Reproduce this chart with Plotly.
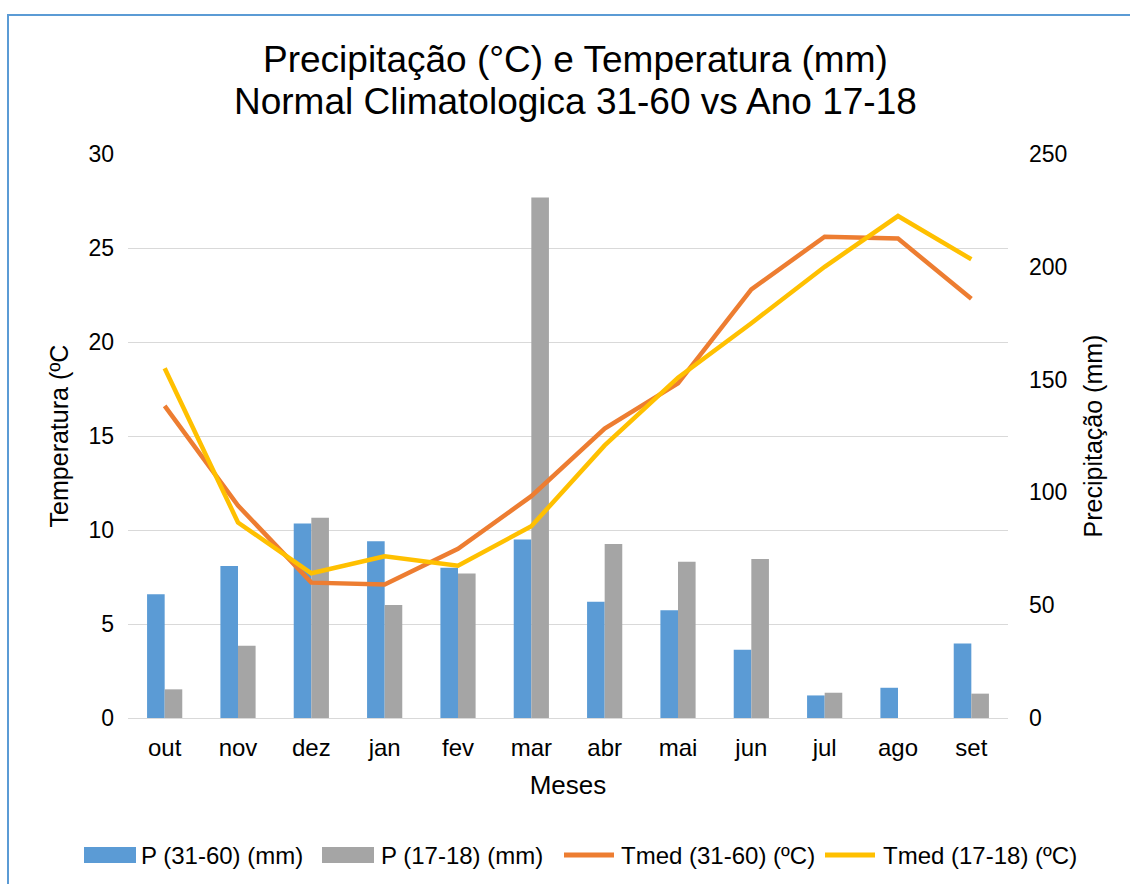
import plotly.graph_objects as go

months = ["out", "nov", "dez", "jan", "fev", "mar", "abr", "mai", "jun", "jul", "ago", "set"]
p_3160 = [54.9, 67.4, 86.2, 78.4, 66.6, 79.1, 51.5, 47.8, 30.3, 10.0, 13.4, 33.0]
p_1718 = [12.7, 32.0, 88.8, 50.1, 64.1, 230.7, 77.1, 69.3, 70.5, 11.2, None, 10.8]
t_3160 = [16.6, 11.3, 7.2, 7.1, 9.0, 11.8, 15.4, 17.8, 22.8, 25.6, 25.5, 22.3]
t_1718 = [18.6, 10.4, 7.7, 8.6, 8.1, 10.2, 14.5, 18.1, 21.0, 24.0, 26.7, 24.4]

series_names = ["P (31-60) (mm)", "P (17-18) (mm)", "Tmed (31-60) (ºC)", "Tmed (17-18) (ºC)"]
series_colors = ["#5B9BD5", "#A5A5A5", "#ED7D31", "#FFC000"]

temp_ticks = [0, 5, 10, 15, 20, 25, 30]
prec_ticks = [0, 50, 100, 150, 200, 250]

FONT = "Liberation Sans, Arial, sans-serif"

fig = go.Figure()
fig.add_trace(go.Bar(x=months, y=p_3160, name=series_names[0], marker_color=series_colors[0],
                     marker_line_width=0, yaxis="y"))
fig.add_trace(go.Bar(x=months, y=p_1718, name=series_names[1], marker_color=series_colors[1],
                     marker_line_width=0, yaxis="y"))
fig.add_trace(go.Scatter(x=months, y=t_3160, name=series_names[2], mode="lines",
                         line=dict(color=series_colors[2], width=4.5), yaxis="y2"))
fig.add_trace(go.Scatter(x=months, y=t_1718, name=series_names[3], mode="lines",
                         line=dict(color=series_colors[3], width=4.5), yaxis="y2"))

L, R, T, B = 128, 122, 154, 166
W, H = 1130, 884
pw, ph = W - L - R, H - T - B


def px_x(x):
    return (x - L) / pw


def px_y(y):
    return (H - B - y) / ph


annotations = [
    dict(text="Precipitação (°C) e Temperatura (mm)", xref="paper", yref="paper",
         x=px_x(575), y=px_y(60), xanchor="center", yanchor="middle", showarrow=False,
         font=dict(size=37, family=FONT)),
    dict(text="Normal Climatologica 31-60 vs Ano 17-18", xref="paper", yref="paper",
         x=px_x(575), y=px_y(101), xanchor="center", yanchor="middle", showarrow=False,
         font=dict(size=37, family=FONT)),
]
shapes = [
    dict(type="rect", xref="paper", yref="paper", x0=px_x(8), x1=px_x(1160),
         y0=px_y(920), y1=px_y(15), line=dict(color="#5B9BD5", width=2),
         fillcolor="rgba(0,0,0,0)", layer="below"),
]

# manual legend (swatch left edge, text left edge)
legend_y = 855
swatch_x = [84, 322, 562, 823]
swatch_w = 52
text_x = [139, 379, 619, 881]
for i, name in enumerate(series_names):
    if i < 2:
        shapes.append(dict(type="rect", xref="paper", yref="paper",
                           x0=px_x(swatch_x[i]), x1=px_x(swatch_x[i] + swatch_w),
                           y0=px_y(legend_y + 8), y1=px_y(legend_y - 8),
                           fillcolor=series_colors[i], line=dict(width=0)))
    else:
        shapes.append(dict(type="line", xref="paper", yref="paper",
                           x0=px_x(swatch_x[i] + 2), x1=px_x(swatch_x[i] + swatch_w),
                           y0=px_y(legend_y), y1=px_y(legend_y),
                           line=dict(color=series_colors[i], width=5)))
    annotations.append(dict(text=name, xref="paper", yref="paper", x=px_x(text_x[i]),
                            y=px_y(legend_y), xanchor="left", yanchor="middle",
                            showarrow=False, font=dict(size=24, family=FONT)))

fig.update_layout(
    width=W, height=H,
    margin=dict(l=L, r=R, t=T, b=B, autoexpand=False),
    paper_bgcolor="white", plot_bgcolor="white",
    font=dict(family=FONT, size=23, color="#000000"),
    barmode="group", bargap=0.52, bargroupgap=0,
    showlegend=False,
    xaxis=dict(type="category", showgrid=False, showline=True, linecolor="#D9D9D9",
               linewidth=1, ticks="", tickfont=dict(size=24), ticklabelstandoff=8,
               title=dict(text="Meses", font=dict(size=26), standoff=16),
               zeroline=False),
    yaxis=dict(side="right", range=[0, 250], tickvals=prec_ticks, showgrid=False,
               zeroline=False, showline=False, tickfont=dict(size=23),
               ticklabelstandoff=20,
               title=dict(text="Precipitação (mm)", font=dict(size=25), standoff=18)),
    yaxis2=dict(side="left", overlaying="y", range=[0, 30], tickvals=temp_ticks,
                showgrid=True, gridcolor="#D9D9D9", gridwidth=1, zeroline=False,
                showline=False, tickfont=dict(size=23), ticklabelstandoff=13,
                title=dict(text="Temperatura (ºC", font=dict(size=25), standoff=12)),
    annotations=annotations,
    shapes=shapes,
)

fig.write_html("out.html", config={"displayModeBar": False},
               post_script="document.body.style.margin='0';")
